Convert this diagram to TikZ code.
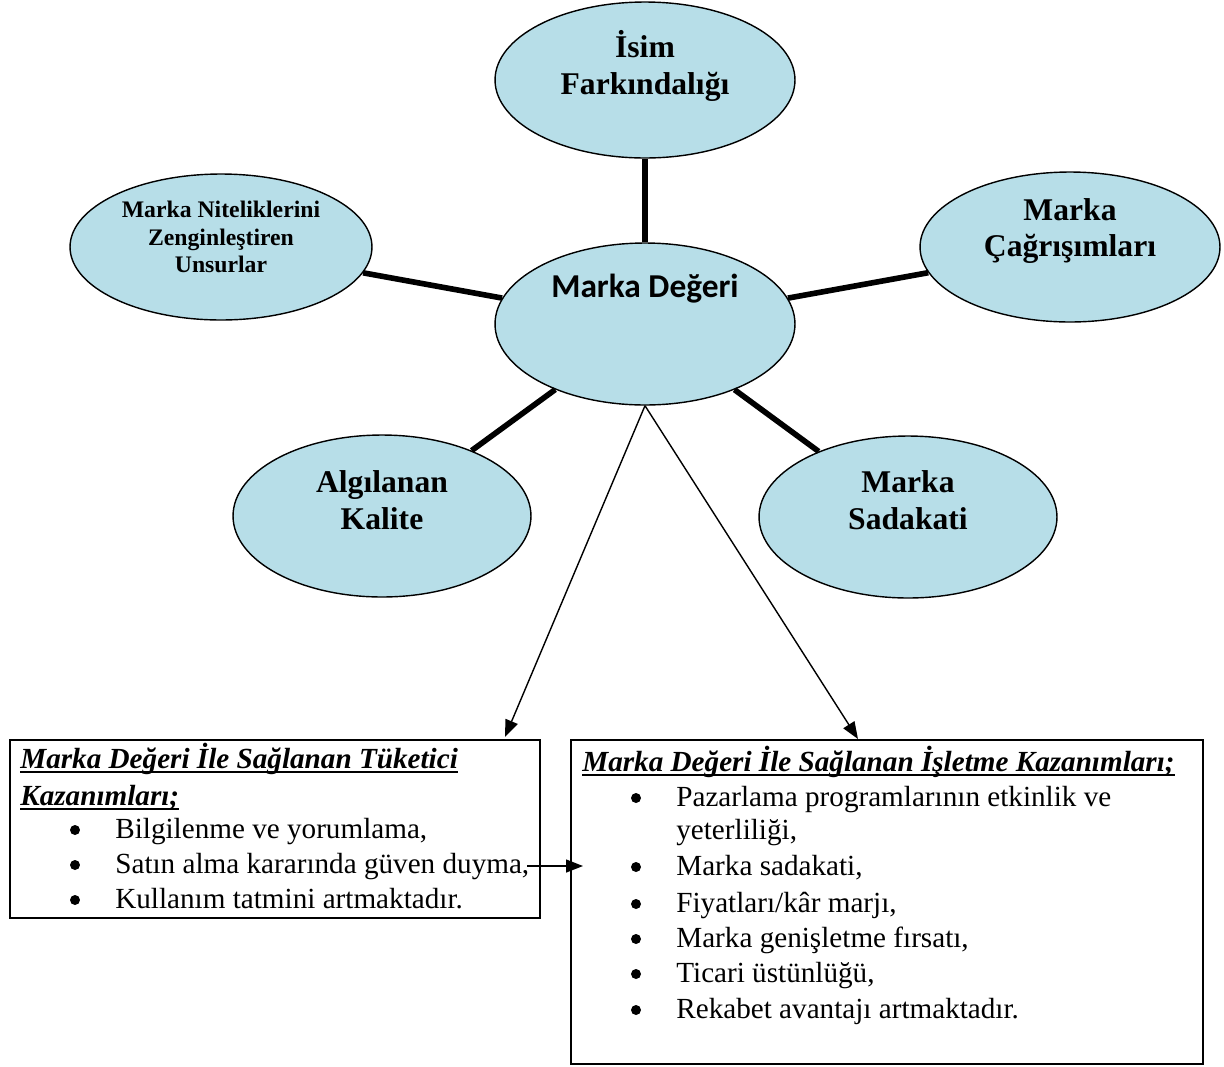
\documentclass[tikz,border=0pt]{standalone}
\usepackage{fontspec}
\setmainfont{Liberation Serif}
\newfontfamily\calibrifont{Carlito}
\usetikzlibrary{shapes.geometric,arrows.meta}
\definecolor{acikmavi}{RGB}{183,222,232}
\newcommand{\baslikyaz}[1]{\setbox0\hbox{\textbf{\textit{#1}}}\rlap{\rule[-2.6pt]{\wd0}{1.1pt}}\box0}
\begin{document}
\begin{tikzpicture}[x=0.02cm, y=-0.02cm,
        elips/.style={ellipse, draw, line width=0.8pt, fill=acikmavi, inner sep=0pt},
        kalin/.style={line width=3.2pt},
        ok/.style={line width=0.8pt, -{Triangle[length=0.34cm,width=0.26cm]}},
        kutu/.style={draw, line width=1.1pt, inner sep=0pt},
        elipsyazi/.style={align=center, font=\fontsize{18}{21}\selectfont\bfseries},
        madde/.style={anchor=base west, inner sep=0pt, font=\fontsize{16.6}{20}\selectfont},
        nokta/.style={circle, fill, inner sep=0pt, minimum size=0.2cm}]
    \useasboundingbox (0,0) rectangle (1224,1066);

    % elipsler
    \node [elips, minimum width=6cm, minimum height=3.24cm] (deger) at (645,324) {};
    \node [elips, minimum width=6cm, minimum height=3.12cm] (isim) at (645,80) {};
    \node [elips, minimum width=6.04cm, minimum height=2.92cm] (nitelik) at (221,247) {};
    \node [elips, minimum width=6cm, minimum height=3cm] (cagrisim) at (1070,247) {};
    \node [elips, minimum width=5.96cm, minimum height=3.24cm] (kalite) at (382,516) {};
    \node [elips, minimum width=5.96cm, minimum height=3.24cm] (sadakat) at (908,517) {};

    \node [font=\calibrifont\fontsize{19}{22}\selectfont\bfseries] (deger-y) at (645,289) {Marka Değeri};
    \node [elipsyazi] (isim-y) at (645,66) {İsim\\Farkındalığı};
    \node [elipsyazi, font=\fontsize{13.5}{15.5}\selectfont\bfseries] (nitelik-y) at (221,237) {Marka Niteliklerini\\Zenginleştiren\\Unsurlar};
    \node [elipsyazi] (cagrisim-y) at (1070,231) {Marka\\Çağrışımları};
    \node [elipsyazi] (kalite-y) at (382,500) {Algılanan\\Kalite};
    \node [elipsyazi] (sadakat-y) at (908,500) {Marka\\Sadakati};

    \draw [kalin] (deger) -- (isim);
    \draw [kalin] (deger) -- (nitelik);
    \draw [kalin] (deger) -- (cagrisim);
    \draw [kalin] (deger) -- (kalite);
    \draw [kalin] (deger) -- (sadakat);

    % kutular
    \node [kutu, minimum width=10.6cm, minimum height=3.56cm] (tuketici) at (275,829) {};
    \node [kutu, minimum width=12.64cm, minimum height=6.48cm] (isletme) at (887,902) {};

    \coordinate (tuk-ok) at (505,737);
    \coordinate (isl-ok) at (858,739);
    \coordinate (orta-bas) at (527,866);
    \coordinate (orta-son) at (583,866);
    \draw [ok] (deger.south) -- (tuk-ok);
    \draw [ok] (deger.south) -- (isl-ok);
    \draw [ok] (orta-bas) -- (orta-son);

    \node [madde] (tuk-b1) at (20,768) {\baslikyaz{Marka Değeri İle Sağlanan Tüketici}};
    \node [madde] (tuk-b2) at (20,805) {\baslikyaz{Kazanımları;}};
    \foreach \y/\metin [count=\i] in {838/{Bilgilenme ve yorumlama,}, 873/{Satın alma kararında güven duyma,}, 908/{Kullanım tatmini artmaktadır.}} {
        \node [nokta] (tuk-n\i) at (75,\y-8) {};
        \node [madde] (tuk-\i) at (115,\y) {\metin};
    }

    \node [madde] (isl-b) at (582,771) {\baslikyaz{Marka Değeri İle Sağlanan İşletme Kazanımları;}};
    \foreach \y/\metin [count=\i] in {806/{Pazarlama programlarının etkinlik ve}, 875/{Marka sadakati,}, 912/{Fiyatları/kâr marjı,}, 947/{Marka genişletme fırsatı,}, 982/{Ticari üstünlüğü,}, 1018/{Rekabet avantajı artmaktadır.}} {
        \node [nokta] (isl-n\i) at (636,\y-8) {};
        \node [madde] (isl-\i) at (676,\y) {\metin};
    }
    \node [madde] (isl-ek) at (676,839) {yeterliliği,};
\end{tikzpicture}
\end{document}
